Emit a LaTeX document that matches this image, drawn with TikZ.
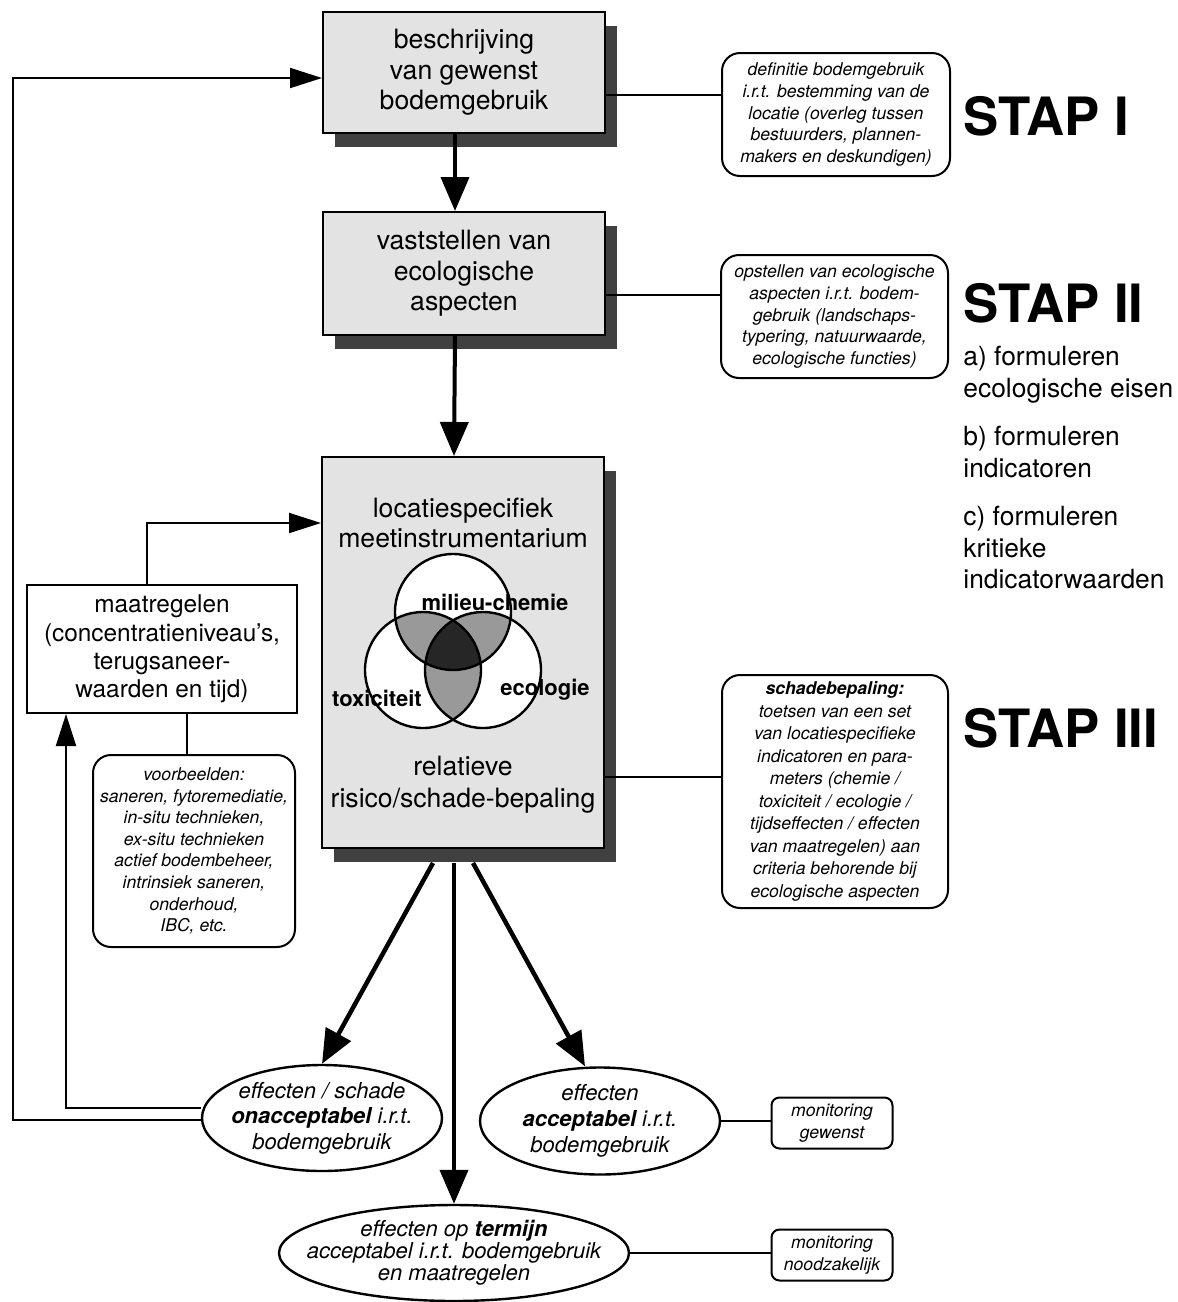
\documentclass[tikz,border=0pt]{standalone}
\usepackage{fontspec}
\setmainfont{TeX Gyre Heros}
\usetikzlibrary{arrows.meta}
\usetikzlibrary{shadows}
\usetikzlibrary{shapes.geometric}
\tikzset{
  boxtekst/.style={align=center, font=\fontsize{13.3}{15.25}\selectfont},
  stapbox/.style={boxtekst, draw, line width=1pt, fill=black!11, minimum width=141pt,
    drop shadow={shadow xshift=6pt, shadow yshift=-7pt, fill=black!75, opacity=1}},
  plainbox/.style={draw, line width=1pt, align=center, fill=white},
  notebox/.style={draw, line width=1pt, rounded corners=9pt, align=center, inner sep=0pt,
    font=\fontsize{8.8}{10.8}\selectfont\itshape},
  uitkomst/.style={draw, ellipse, line width=1.2pt, inner sep=0pt},
  uittekst/.style={align=center, inner sep=0pt, font=\fontsize{11}{12.8}\selectfont\itshape},
  stap/.style={anchor=west, inner sep=0pt, font=\fontsize{26.4}{30}\selectfont\bfseries},
  eis/.style={anchor=base west, inner sep=0pt, font=\fontsize{13.2}{16}\selectfont},
  venn/.style={inner sep=0pt, font=\fontsize{11}{13}\selectfont\bfseries},
  dikpijl/.style={line width=2pt, -{Triangle[length=17pt,width=14pt]}},
  dunpijl/.style={line width=1pt, -{Triangle[length=16pt,width=10pt]}},
  lijn/.style={line width=1pt}
}

\begin{document}
\begin{tikzpicture}[x=0.5pt, y=-0.5pt]
\useasboundingbox (0,0) rectangle (1178,1302);

\node[stapbox, minimum height=60.5pt] (wens) at (464,72.5) {beschrijving\\van gewenst\\bodemgebruik};
\node[stapbox, minimum height=61.5pt] (eco) at (464,273.5) {vaststellen van\\ecologische\\aspecten};
\node[stapbox, minimum height=195.5pt] (meet) at (463,652.5) {};
\node[boxtekst] (meettop) at (463,523) {locatiespecifiek\\meetinstrumentarium};
\node[boxtekst, font=\fontsize{13.3}{16}\selectfont] (meetbot) at (463,785) {relatieve\\risico/schade-bepaling};

\coordinate (chem) at (453,612);
\coordinate (tox) at (423,670);
\coordinate (ecol) at (483,670);
\foreach \c in {chem,tox,ecol} \fill[white] (\c) circle (58);
\begin{scope}
  \clip (chem) circle (58);
  \fill[black!40] (tox) circle (58) (ecol) circle (58);
\end{scope}
\begin{scope}
  \clip (tox) circle (58);
  \fill[black!40] (ecol) circle (58);
  \clip (chem) circle (58);
  \fill[black!85] (ecol) circle (58);
\end{scope}
\foreach \c in {chem,tox,ecol} \draw[line width=1.2pt] (\c) circle (58);
\node[venn] (lchem) at (495,602) {milieu-chemie};
\node[venn] (ltox) at (377,698) {toxiciteit};
\node[venn] (lecol) at (545,690) {ecologie};

\node[notebox, minimum width=114pt, minimum height=61.5pt] (def) at (836,114.5)
  {definitie bodemgebruik\\i.r.t. bestemming van de\\locatie (overleg tussen\\bestuurders, plannen-\\makers en deskundigen)};
\node[notebox, minimum width=113.5pt, minimum height=61.5pt] (opst) at (834.5,316.5)
  {opstellen van ecologische\\aspecten i.r.t. bodem-\\gebruik (landschaps-\\typering, natuurwaarde,\\ecologische functies)};
\node[notebox, minimum width=113pt, minimum height=116.5pt, font=\fontsize{8.8}{11.25}\selectfont\itshape] (schade) at (835,791.5)
  {\textbf{schadebepaling:}\\toetsen van een set\\van locatiespecifieke\\indicatoren en para-\\meters (chemie /\\toxiciteit / ecologie /\\tijdseffecten / effecten\\van maatregelen) aan\\criteria behorende bij\\ecologische aspecten};

\node[plainbox, minimum width=135pt, minimum height=64pt, font=\fontsize{12.2}{14.2}\selectfont] (maatr) at (162,649)
  {maatregelen\\(concentratieniveau's,\\terugsaneer-\\waarden en tijd)};
\node[notebox, minimum width=101pt, minimum height=96pt] (voorb) at (194,851)
  {voorbeelden:\\saneren, fytoremediatie,\\in-situ technieken,\\ex-situ technieken\\actief bodembeheer,\\intrinsiek saneren,\\onderhoud,\\IBC, etc.};

\node[uitkomst, minimum width=120pt, minimum height=53pt,
  label={[uittekst]center:{effecten / schade\\\textbf{onacceptabel} i.r.t.\\bodemgebruik}}] (onacc) at (322,1118) {};
\node[uitkomst, minimum width=120pt, minimum height=53.5pt,
  label={[uittekst, font=\fontsize{11}{13}\selectfont\itshape]center:{effecten\\\textbf{acceptabel} i.r.t.\\bodemgebruik}}] (acc) at (600,1121) {};
\node[uitkomst, minimum width=175pt, minimum height=48pt,
  label={[uittekst, font=\fontsize{11}{10.9}\selectfont\itshape]center:{effecten op \textbf{termijn}\\acceptabel i.r.t. bodemgebruik\\en maatregelen}}] (term) at (454,1253) {};
\node[notebox, rounded corners=4pt, minimum width=60.5pt, minimum height=25.5pt] (mon1) at (832,1123) {monitoring\\gewenst};
\node[notebox, rounded corners=4pt, minimum width=60.5pt, minimum height=25.5pt] (mon2) at (832,1255) {monitoring\\noodzakelijk};

\node[stap] (stap1) at (963,116) {STAP I};
\node[stap] (stap2) at (963,303) {STAP II};
\node[stap] (stap3) at (963,728) {STAP III};
\foreach \y/\tekst [count=\i] in {365/a) formuleren, 397/ecologische eisen, 445/b) formuleren, 477/indicatoren, 525/c) formuleren, 557/kritieke, 588/indicatorwaarden}
  \node[eis] (eis\i) at (963,\y) {\tekst};

\draw[dikpijl] ([xshift=-4.5pt]wens.south) -- ([xshift=-4.5pt]eco.north);
\draw[dikpijl] ([xshift=-4.5pt]eco.south) -- ([xshift=-4.5pt]meet.north);
\draw[dikpijl, line width=2.25pt] ([xshift=-15pt, yshift=-7pt]meet.south) -- (onacc.north);
\draw[dikpijl] ([xshift=-4.5pt, yshift=-7pt]meet.south) -- (term.north);
\draw[dikpijl, line width=2.25pt] ([xshift=5pt, yshift=-7pt]meet.south) -- ([xshift=-7.5pt]acc.north);

\coordinate (w1) at ([yshift=-11.25pt]wens.east);
\draw[lijn] (w1) -- (w1 -| def.west);
\coordinate (e1) at ([yshift=-10.75pt]eco.east);
\draw[lijn] (e1) -- (e1 -| opst.west);
\coordinate (m1) at ([yshift=-62pt]meet.east);
\draw[lijn] (m1) -- (m1 -| schade.west);
\draw[lijn] (acc.east) -- (acc.east -| mon1.west);
\draw[lijn] (term.east) -- (term.east -| mon2.west);

\coordinate (terug) at (13,78);
\draw[dunpijl] ([yshift=-1pt]onacc.west) -| (terug) -- (terug -| wens.west);
\draw[dunpijl] ([yshift=5pt]onacc.west) -| ([xshift=-48pt]maatr.south);
\draw[dunpijl] ([xshift=-7.5pt]maatr.north) |- ([yshift=64.75pt]meet.west);
\coordinate (mv) at ([xshift=12.5pt]maatr.south);
\draw[lijn] (mv) -- (mv |- voorb.north);
\end{tikzpicture}
\end{document}
